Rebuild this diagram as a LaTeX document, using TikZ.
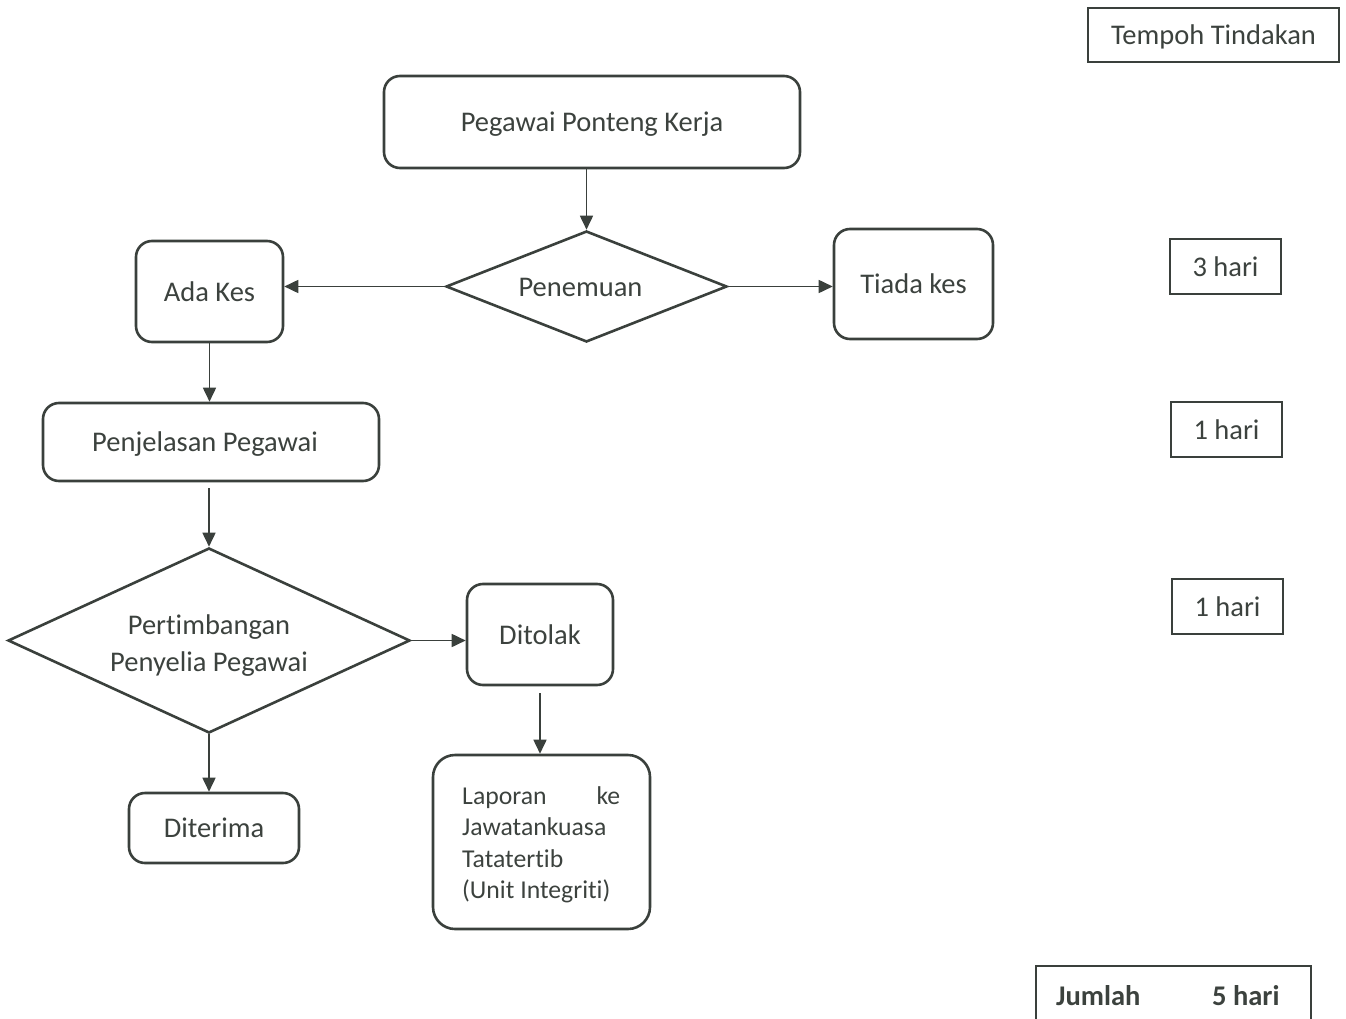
\documentclass[tikz,border=0pt]{standalone}
\usepackage{fontspec}
\setmainfont{Carlito}[Ligatures={NoCommon}]
\usetikzlibrary{shapes.geometric,arrows.meta}
\definecolor{ink}{RGB}{58,64,60}
\definecolor{txt}{RGB}{60,66,62}
\tikzset{
  base/.style={draw=ink, line width=2.6pt, text=txt, inner sep=0pt,
    font=\fontsize{28.5}{34}\selectfont},
  oneline/.style={text height=24pt, text depth=5pt},
  roundbox/.style={base, oneline, rectangle, rounded corners=16pt},
  squarebox/.style={base, oneline, rectangle},
  decision/.style={base, diamond},
  plain/.style={text=txt, inner sep=0pt},
  link/.style={draw=ink, line width=1.7pt, -{Triangle[length=14pt,width=13pt]}},
}
\begin{document}
\begin{tikzpicture}[x=1pt,y=-1pt]
  \clip (0,0) rectangle (1346,1019);

  % time column
  \node[squarebox, minimum width=251pt, minimum height=54pt] (tempoh) at (1213.5,35) {Tempoh Tindakan};
  \node[squarebox, minimum width=111pt, minimum height=55pt] (h3) at (1225.5,266.5) {3 hari};
  \node[squarebox, minimum width=111pt, minimum height=55pt] (h1a) at (1226.5,429.5) {1 hari};
  \node[squarebox, minimum width=111pt, minimum height=55pt] (h1b) at (1227.5,606.5) {1 hari};
  \node[squarebox, minimum width=275pt, minimum height=80pt] (jumlah) at (1173.5,1006) {};
  \node[plain, font=\bfseries\fontsize{28.5}{34}\selectfont, anchor=base west] (jlabel) at (1056,1005) {Jumlah};
  \node[plain, font=\bfseries\fontsize{28.5}{34}\selectfont, anchor=base west] (jhari) at (1212,1005) {5 hari};

  % process flow
  \node[roundbox, minimum width=416pt, minimum height=92pt] (start) at (592,122) {Pegawai Ponteng Kerja};
  \node[decision, oneline, aspect=2.53, minimum width=281pt, minimum height=111pt] (pen) at (586.5,286.5) {Penemuan\kern12pt};
  \node[roundbox, minimum width=147pt, minimum height=101pt] (adakes) at (209.5,291.5) {Ada Kes};
  \node[roundbox, minimum width=159pt, minimum height=110pt] (tiada) at (913.5,284) {Tiada kes};
  \node[roundbox, minimum width=336pt, minimum height=78pt] (penj) at (211,442) {Penjelasan Pegawai\kern12pt};
  \node[decision, aspect=2.17, minimum width=402pt, minimum height=185pt, align=center,
    font=\fontsize{28.5}{37}\selectfont] (pert) at (209,640.5)
    {\rule{0pt}{30pt}Pertimbangan\\Penyelia Pegawai};
  \node[roundbox, minimum width=146pt, minimum height=101pt] (ditolak) at (540,634.5) {Ditolak};
  \node[roundbox, rounded corners=22pt, minimum width=217pt, minimum height=174pt] (laporan) at (541.5,842) {};
  \node[plain, font=\fontsize{25.7}{31.6}\selectfont, align=left, anchor=north west] (laptext) at (462,786)
    {\makebox[158pt][s]{Laporan\hfill ke}\\Jawatankuasa\\Tatatertib\\(Unit Integriti)};
  \node[roundbox, minimum width=170pt, minimum height=70pt] (diterima) at (214,828) {Diterima};

  % connectors
  \draw[link] (pen.north |- start.south) -- (pen.north);
  \draw[link] (pen.west) -- (pen.west -| adakes.east);
  \draw[link] (pen.east) -- (pen.east -| tiada.west);
  \draw[link] (adakes.south) -- (adakes.south |- penj.north);
  \draw[link, shorten <=6pt] (pert.north |- penj.south) -- (pert.north);
  \draw[link] (pert.east) -- (pert.east -| ditolak.west);
  \draw[link, shorten <=7pt] (ditolak.south) -- (ditolak.south |- laporan.north);
  \draw[link] (pert.south) -- (pert.south |- diterima.north);
\end{tikzpicture}
\end{document}
